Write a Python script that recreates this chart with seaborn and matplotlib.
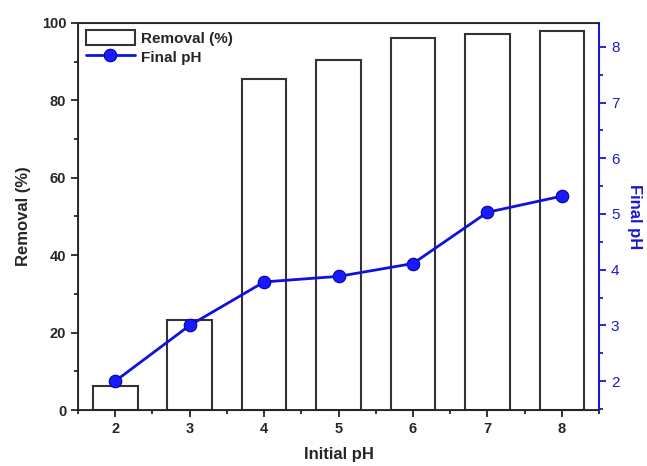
import numpy as np
import pandas as pd
import matplotlib
matplotlib.use("Agg")
import matplotlib.pyplot as plt
from matplotlib.ticker import MultipleLocator
import seaborn as sns

# veriler
initial_ph = [2, 3, 4, 5, 6, 7, 8]
removal = [6.2, 23.2, 85.4, 90.3, 96.0, 97.0, 97.9]
final_ph = [2.0, 3.0, 3.78, 3.88, 4.11, 5.03, 5.32]

df = pd.DataFrame({"Initial pH": initial_ph, "Removal (%)": removal, "Final pH": final_ph})

sns.set_style("ticks")
plt.rcParams["font.family"] = ["Liberation Sans", "DejaVu Sans"]
plt.rcParams["font.weight"] = "bold"

fig = plt.figure(figsize=(6.47, 4.66), dpi=100)
ax = fig.add_axes([0.1206, 0.12, 0.8054, 0.831])

sns.barplot(data=df, x="Initial pH", y="Removal (%)", native_scale=True, width=0.6,
            fill=False, color="#333333", linewidth=1.5, ax=ax, label="Removal (%)")
ax.set_xlim(1.5, 8.5)
ax.set_ylim(0, 100)
ax.xaxis.set_major_locator(MultipleLocator(1))
ax.xaxis.set_minor_locator(MultipleLocator(0.5))
ax.yaxis.set_major_locator(MultipleLocator(20))
ax.yaxis.set_minor_locator(MultipleLocator(10))
ax.tick_params(axis="both", which="major", direction="out", length=5, width=1.3, labelsize=10.5)
ax.tick_params(axis="both", which="minor", direction="out", length=3, width=1.3)
for s in ax.spines.values():
    s.set_linewidth(1.3)
    s.set_color("#222222")
ax.set_xlabel("Initial pH", fontsize=12, fontweight="bold", labelpad=8)
ax.set_ylabel("Removal (%)", fontsize=12, fontweight="bold", labelpad=8)

ax2 = ax.twinx()
sns.lineplot(data=df, x="Initial pH", y="Final pH", ax=ax2, color="#1010e0", linewidth=2,
             marker="o", markersize=9, markerfacecolor="#1a1aff", markeredgecolor="#0000b0",
             markeredgewidth=0.8, label="Final pH", legend=False)
ax2.set_ylim(1.48, 8.43)
ax2.yaxis.set_major_locator(MultipleLocator(1))
ax2.yaxis.set_minor_locator(MultipleLocator(0.5))
ax2.tick_params(axis="y", which="major", direction="out", length=5, width=1.3,
                colors="#1a1acc", labelsize=11)
ax2.tick_params(axis="y", which="minor", direction="out", length=3, width=1.3, colors="#1a1acc")
for lbl in ax2.get_yticklabels():
    lbl.set_fontweight("normal")
ax2.spines["right"].set_color("#1a1acc")
ax2.spines["right"].set_linewidth(1.5)
ax2.set_ylabel("Final pH", fontsize=12, fontweight="bold", color="#1a1acc", rotation=270, labelpad=16)

h1, l1 = ax.get_legend_handles_labels()
h2, l2 = ax2.get_legend_handles_labels()
ax.legend(h1[:1] + h2, ["Removal (%)", "Final pH"], loc="upper left", frameon=False,
          prop={"weight": "bold", "size": 11}, borderaxespad=0.1, handlelength=3.2,
          handleheight=1.1, labelspacing=0.2, handletextpad=0.4)

fig.savefig("out.png", dpi=100)
